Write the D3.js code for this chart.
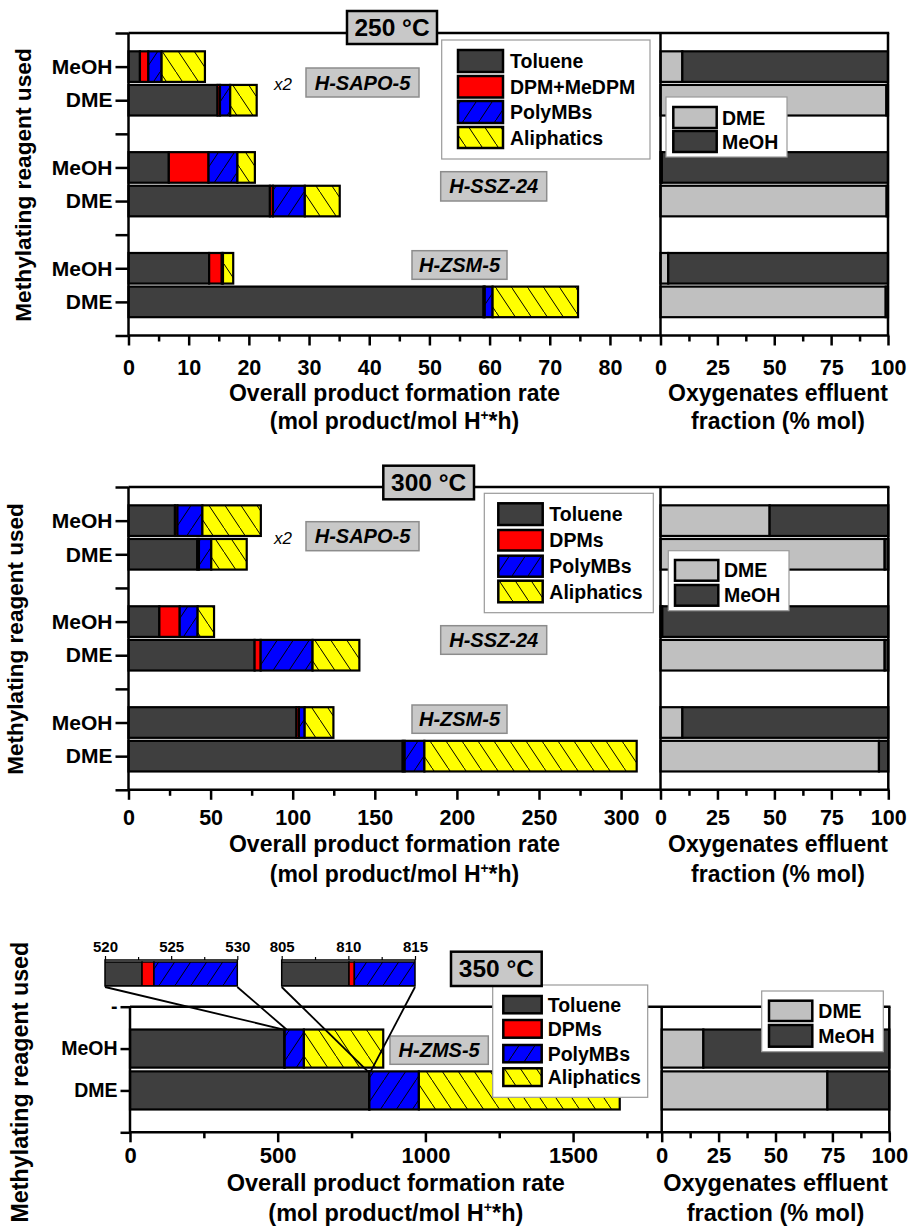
<!DOCTYPE html>
<html><head><meta charset="utf-8">
<script src="https://cdn.jsdelivr.net/npm/d3@7"></script>
<style>
body{margin:0;background:#fff}
svg{display:block}
text{font-family:"Liberation Sans",Arial,Helvetica,sans-serif;font-weight:bold;fill:#000}
</style>
</head><body><svg id="chart" width="912" height="1230"></svg>
<script>
// ===================== DATA =====================
const reagents = ["MeOH", "DME"];
const catalysts = ["H-SAPO-5", "H-SSZ-24", "H-ZSM-5"];
const catalysts350 = ["H-ZMS-5"];
const productKeys = ["Toluene", "DPMs", "PolyMBs", "Aliphatics"];
const productNames250 = ["Toluene", "DPM+MeDPM", "PolyMBs", "Aliphatics"];
const productNames = ["Toluene", "DPMs", "PolyMBs", "Aliphatics"];
const oxygenates = ["DME", "MeOH"];
const temperatures = ["250 °C", "300 °C", "350 °C"];

// rows: SAPO-5 MeOH, SAPO-5 DME, SSZ-24 MeOH, SSZ-24 DME, ZSM-5 MeOH, ZSM-5 DME
const toluene250 = [1.9, 14.8, 6.7, 23.5, 13.4, 59.0];
const dpm250     = [1.4, 0.4, 6.6, 0.5, 2.1, 0.2];
const polyMB250  = [2.2, 1.7, 4.8, 5.3, 0.2, 1.3];
const aliph250   = [7.2, 4.4, 2.9, 5.8, 1.7, 14.2];
const dmeOut250  = [9.6, 99.3, 0.6, 99.4, 3.4, 99.0];
const meohOut250 = [90.4, 0.7, 99.4, 0.6, 96.6, 1.0];

const toluene300 = [28.3, 41.9, 18.8, 76.8, 102.3, 167.0];
const dpm300     = [1.5, 1.0, 12.4, 3.7, 1.5, 1.2];
const polyMB300  = [15.2, 7.5, 10.9, 31.6, 3.5, 12.0];
const aliph300   = [35.6, 21.6, 10.0, 28.5, 17.5, 129.3];
const dmeOut300  = [47.9, 98.4, 0.8, 98.4, 9.6, 95.9];
const meohOut300 = [52.1, 1.6, 99.2, 1.6, 90.4, 4.1];

// rows: H-ZMS-5 MeOH, H-ZMS-5 DME
const toluene350 = [522.8, 810.05];
const dpm350     = [0.9, 0.4];
const polyMB350  = [65.0, 167.5];
const aliph350   = [268.6, 680.0];
const dmeOut350  = [18.3, 72.8];
const meohOut350 = [81.7, 27.2];

const rateTicks250 = [0, 10, 20, 30, 40, 50, 60, 70, 80];
const rateMinor250 = [5, 15, 25, 35, 45, 55, 65, 75, 85];
const rateTicks300 = [0, 50, 100, 150, 200, 250, 300];
const rateMinor300 = [25, 75, 125, 175, 225, 275];
const rateTicks350 = [0, 500, 1000, 1500];
const rateMinor350 = [250, 750, 1250, 1750];
const fracTicks = [0, 25, 50, 75, 100];
const fracMinor = [12.5, 37.5, 62.5, 87.5];
const insetTicksA = [520, 525, 530];
const insetMinorA = [522.5, 527.5];
const insetTicksB = [805, 810, 815];
const insetMinorB = [807.5, 812.5];

// ===================== STYLE =====================
const svg = d3.select("#chart");
const defs = svg.append("defs");
const DARK = "#3f3f3f", LIGHT = "#c0c0c0";
const fmt = d3.format("d");

function hatch(id, color, dir) {
  const w = 16, h = 24;
  const p = defs.append("pattern").attr("id", id).attr("patternUnits", "userSpaceOnUse")
    .attr("width", w).attr("height", h);
  p.append("rect").attr("width", w).attr("height", h).attr("fill", color);
  const d = dir === "/" ? `M0,${h} L${w},0 M-2,2 L2,-2 M${w-2},${h+2} L${w+2},${h-2}`
                        : `M0,0 L${w},${h} M-2,${h-2} L2,${h+2} M${w-2},-2 L${w+2},2`;
  p.append("path").attr("d", d).attr("stroke", "#000").attr("stroke-width", 1).attr("fill", "none");
}
hatch("hPoly", "#0000ff", "/");
hatch("hAli", "#ffff00", "\\");
const fills = {Toluene: DARK, DPMs: "#ff0000", PolyMBs: "url(#hPoly)", Aliphatics: "url(#hAli)"};
const oxFills = {DME: LIGHT, MeOH: DARK};

function slotLabels(n, rowSlots, topLabel) {
  const a = d3.range(n + 1).map(() => "");
  rowSlots.forEach((s, i) => a[s] = reagents[i % 2]);
  if (topLabel) a[0] = topLabel;
  return a;
}

const panels = [
  { top: 33, bottom: 335.5, x0: 128.5, xs: 660.5, xr: 888, max: 88.4, n: 9, rows: [1, 2, 4, 5, 7, 8],
    tol: toluene250, dpm: dpm250, poly: polyMB250, ali: aliph250, dme: dmeOut250, meoh: meohOut250,
    major: rateTicks250, minor: rateMinor250, names: productNames250, title: temperatures[0],
    titleBox: [347, 11, 437, 44], catFs: 21, tickFs: 21.5, tickBase: 375,
    legend: {box: [441.7, 40, 650, 159], sx: [458, 503], rows: [[50, 72], [76, 97.5], [101, 123], [127, 148]], tx: 510, fs: 19.5},
    legend2: {box: [666, 97, 787, 157], sx: [673.3, 716.7], rows: [[107, 128], [131, 152]], tx: 722, fs: 19.5},
    cats: [{name: catalysts[0], box: [306, 68, 419, 97]}, {name: catalysts[1], box: [440.7, 171.7, 546.7, 201]},
           {name: catalysts[2], box: [412, 250.7, 507, 279.3]}],
    x2: [283, 90], titleY: [400.5, 428.5], titleFs: 23, rightTitleX: 778,
    yTitle: {x: 30.5, y: 185, fs: 22.7, anchor: "middle"} },
  { top: 487, bottom: 789.8, x0: 128.5, xs: 660.5, xr: 888.3, max: 324, n: 9, rows: [1, 2, 4, 5, 7, 8],
    tol: toluene300, dpm: dpm300, poly: polyMB300, ali: aliph300, dme: dmeOut300, meoh: meohOut300,
    major: rateTicks300, minor: rateMinor300, names: productNames, title: temperatures[1],
    titleBox: [383.3, 465.7, 474, 499.3], catFs: 21, tickFs: 21.5, tickBase: 825,
    legend: {box: [484.3, 493.3, 653.3, 612.7], sx: [498.3, 542.7], rows: [[503.3, 525], [530, 550.5], [555.7, 576.7], [580.7, 602.3]], tx: 549.3, fs: 19.5},
    legend2: {box: [668.3, 550.7, 789, 610.7], sx: [675, 718.3], rows: [[560, 580.7], [585, 605.7]], tx: 724, fs: 19.5},
    cats: [{name: catalysts[0], box: [306, 521.7, 419, 550.7]}, {name: catalysts[1], box: [440.7, 625.7, 546.7, 654.3]},
           {name: catalysts[2], box: [412, 705, 507, 733.3]}],
    x2: [283, 544], titleY: [851.5, 881.7], titleFs: 23, rightTitleX: 778,
    yTitle: {x: 23, y: 639, fs: 22.5, anchor: "middle"} },
  { top: 1006.7, bottom: 1132.3, x0: 130, xs: 661.7, xr: 889.3, max: 1800, n: 3, rows: [1, 2],
    tol: toluene350, dpm: dpm350, poly: polyMB350, ali: aliph350, dme: dmeOut350, meoh: meohOut350,
    major: rateTicks350, minor: rateMinor350, names: productNames, title: temperatures[2], topLabel: "-",
    titleBox: [451, 951.7, 541.7, 986], catFs: 19.5, tickFs: 22, tickBase: 1163,
    legend: {box: [492.7, 985, 647.7, 1097.3], sx: [503.3, 541.7], rows: [[996, 1013.3], [1020, 1037.7], [1045, 1062.3], [1068.3, 1086]], tx: 547.7, fs: 19.5},
    legend2: {box: [761.7, 991, 883.3, 1051.7], sx: [769, 812.3], rows: [[1000.7, 1021], [1025, 1046.7]], tx: 818.3, fs: 19.5},
    cats: [{name: catalysts350[0], box: [390, 1036, 488.3, 1064.3]}],
    titleY: [1191, 1220.5], titleFs: 23.5, rightTitleX: 775.5,
    yTitle: {x: 28, y: 941.7, fs: 23.3, anchor: "end"},
    insets: [
      {domain: [520, 530], ticks: insetTicksA, minor: insetMinorA, x: [105, 237.3], row: 0},
      {domain: [805, 815], ticks: insetTicksB, minor: insetMinorB, x: [281.7, 415], row: 1}
    ] }
];

function styleAxis(sel, fs, sw) {
  sel.select(".domain").remove();
  sel.selectAll(".tick line").attr("stroke", "#000").attr("stroke-width", sw);
  sel.selectAll(".tick text").style("font-size", fs + "px").attr("fill", "#000");
}

function drawPanel(p, pi) {
  const g = svg.append("g");
  const y = d3.scaleLinear().domain([0, p.n]).range([p.top, p.bottom]);
  const xl = d3.scaleLinear().domain([0, p.max]).range([p.x0, p.xs]);
  const xr = d3.scaleLinear().domain([0, 100]).range([p.xs, p.xr]);
  const bh = (y(1) - y(0)) * 0.91;

  const table = p.rows.map((slot, i) => ({slot, Toluene: p.tol[i], DPMs: p.dpm[i], PolyMBs: p.poly[i], Aliphatics: p.ali[i],
                                          DME: p.dme[i], MeOH: p.meoh[i]}));
  const stacked = d3.stack().keys(productKeys)(table);
  const oxStacked = d3.stack().keys(oxygenates)(table);

  // left bars
  g.append("g").selectAll("g").data(stacked).join("g")
    .attr("fill", d => fills[d.key])
    .selectAll("rect").data(d => d).join("rect")
    .attr("x", d => xl(d[0])).attr("width", d => xl(d[1]) - xl(d[0]))
    .attr("y", d => y(d.data.slot) - bh / 2).attr("height", bh)
    .attr("stroke", "#000").attr("stroke-width", 2.2);

  // right bars
  g.append("g").selectAll("g").data(oxStacked).join("g")
    .attr("fill", d => oxFills[d.key])
    .selectAll("rect").data(d => d).join("rect")
    .attr("x", d => xr(d[0])).attr("width", d => xr(d[1]) - xr(d[0]))
    .attr("y", d => y(d.data.slot) - bh / 2).attr("height", bh)
    .attr("stroke", "#000").attr("stroke-width", 2.2);

  // frame
  const fr = g.append("g").attr("stroke", "#000").attr("stroke-width", 2.5).attr("fill", "none");
  fr.append("line").attr("x1", p.x0).attr("x2", p.xr + 1.2).attr("y1", p.top).attr("y2", p.top);
  fr.append("line").attr("x1", p.x0).attr("x2", p.xr + 1.2).attr("y1", p.bottom).attr("y2", p.bottom);
  [p.x0, p.xs, p.xr].forEach(x => fr.append("line").attr("x1", x).attr("x2", x).attr("y1", p.top).attr("y2", p.bottom));

  // y axis
  const labs = slotLabels(p.n, p.rows, p.topLabel);
  g.append("g").attr("transform", `translate(${p.x0},0)`)
    .call(d3.axisLeft(y).tickValues(d3.range(p.n + 1)).tickFormat(i => labs[i]).tickSize(p.n === 3 ? 9.5 : 13).tickPadding(3).tickSizeOuter(0))
    .call(s => styleAxis(s, p.catFs, 2.5));

  // x axes
  const pad = (p.tickBase - p.bottom) - 0.71 * p.tickFs - 10;
  [[xl, p.major], [xr, fracTicks]].forEach(([sc, tv]) => {
    g.append("g").attr("transform", `translate(0,${p.bottom})`)
      .call(d3.axisBottom(sc).tickValues(tv).tickFormat(fmt).tickSize(10).tickPadding(pad).tickSizeOuter(0))
      .call(s => styleAxis(s, p.tickFs, 2.5));
  });
  [[xl, p.minor], [xr, fracMinor]].forEach(([sc, tv]) => {
    g.append("g").attr("transform", `translate(0,${p.bottom})`)
      .call(d3.axisBottom(sc).tickValues(tv.filter(v => sc(v) <= sc.range()[1] - 2)).tickSize(6).tickFormat("").tickSizeOuter(0))
      .call(s => styleAxis(s, p.tickFs, 2.5));
  });

  // axis titles
  const cxL = (p.x0 + p.xs) / 2;
  g.append("text").attr("x", cxL).attr("y", p.titleY[0]).attr("text-anchor", "middle").style("font-size", p.titleFs + "px")
    .text("Overall product formation rate");
  const st = g.append("text").attr("x", cxL).attr("y", p.titleY[1]).attr("text-anchor", "middle").style("font-size", p.titleFs + "px");
  st.append("tspan").text("(mol product/mol H");
  st.append("tspan").text("+").attr("dy", -9).style("font-size", (p.titleFs * 0.6) + "px");
  st.append("tspan").text("*h)").attr("dy", 9);
  g.append("text").attr("x", p.rightTitleX).attr("y", p.titleY[0]).attr("text-anchor", "middle").style("font-size", p.titleFs + "px")
    .text("Oxygenates effluent");
  g.append("text").attr("x", p.rightTitleX).attr("y", p.titleY[1]).attr("text-anchor", "middle").style("font-size", p.titleFs + "px")
    .text("fraction (% mol)");

  // y title
  g.append("text").attr("transform", `translate(${p.yTitle.x},${p.yTitle.y}) rotate(-90)`)
    .attr("text-anchor", p.yTitle.anchor).style("font-size", p.yTitle.fs + "px").text("Methylating reagent used");

  // catalyst labels
  p.cats.forEach(c => {
    const [x1, y1, x2, y2] = c.box;
    g.append("rect").attr("x", x1).attr("y", y1).attr("width", x2 - x1).attr("height", y2 - y1)
      .attr("fill", "#c8c8c8").attr("stroke", "#8c8c8c").attr("stroke-width", 1.5);
    g.append("text").attr("x", (x1 + x2) / 2).attr("y", (y1 + y2) / 2 + 7).attr("text-anchor", "middle")
      .style("font-size", "20px").style("font-style", "italic").attr("fill", "#1a1a1a").text(c.name);
  });
  if (p.x2) {
    g.append("text").attr("x", p.x2[0]).attr("y", p.x2[1]).attr("text-anchor", "middle")
      .style("font-size", "17px").style("font-style", "italic").style("font-weight", "normal").text("x2");
  }

  // insets
  if (p.insets) {
    p.insets.forEach((ins, k) => {
      const xi = d3.scaleLinear().domain(ins.domain).range(ins.x);
      const iy0 = 960, iy1 = 986;
      const cid = "clipInset" + k;
      defs.append("clipPath").attr("id", cid).append("rect")
        .attr("x", ins.x[0]).attr("y", iy0).attr("width", ins.x[1] - ins.x[0]).attr("height", iy1 - iy0);
      const rowData = stacked.map(s => ({key: s.key, v: s[ins.row]}));
      g.append("g").attr("clip-path", `url(#${cid})`).selectAll("rect").data(rowData).join("rect")
        .attr("x", d => xi(Math.max(d.v[0], ins.domain[0] - 1)))
        .attr("width", d => Math.max(0, xi(Math.min(d.v[1], ins.domain[1] + 1)) - xi(Math.max(d.v[0], ins.domain[0] - 1))))
        .attr("y", iy0 + 2).attr("height", iy1 - iy0 - 2)
        .attr("fill", d => fills[d.key]).attr("stroke", "#000").attr("stroke-width", 1.5);
      g.append("rect").attr("x", ins.x[0]).attr("y", iy0).attr("width", ins.x[1] - ins.x[0]).attr("height", iy1 - iy0)
        .attr("fill", "none").attr("stroke", "#000").attr("stroke-width", 1.5);
      g.append("g").attr("transform", `translate(0,${iy0})`)
        .call(d3.axisTop(xi).tickValues(ins.ticks).tickFormat(fmt).tickSize(4).tickPadding(4).tickSizeOuter(0))
        .call(s => styleAxis(s, 15, 1.2));
      g.append("g").attr("transform", `translate(0,${iy0})`)
        .call(d3.axisTop(xi).tickValues(ins.minor).tickSize(3).tickFormat("").tickSizeOuter(0))
        .call(s => styleAxis(s, 15, 1.2));
      const slot = p.rows[ins.row];
      const yb = y(slot) - bh / 2;
      g.append("line").attr("x1", ins.x[0]).attr("y1", iy1 + 1).attr("x2", xl(ins.domain[0])).attr("y2", yb)
        .attr("stroke", "#000").attr("stroke-width", 1.8);
      g.append("line").attr("x1", ins.x[1]).attr("y1", iy1 + 1).attr("x2", xl(ins.domain[1])).attr("y2", yb)
        .attr("stroke", "#000").attr("stroke-width", 1.8);
    });
  }

  // legends
  function legend(L, keys, names, fillMap) {
    const [x1, y1, x2, y2] = L.box;
    g.append("rect").attr("x", x1).attr("y", y1).attr("width", x2 - x1).attr("height", y2 - y1)
      .attr("fill", "#fff").attr("stroke", "#9a9a9a").attr("stroke-width", 1.2);
    const it = g.append("g").selectAll("g").data(keys).join("g");
    it.append("rect").attr("x", L.sx[0]).attr("width", L.sx[1] - L.sx[0])
      .attr("y", (d, i) => L.rows[i][0]).attr("height", (d, i) => L.rows[i][1] - L.rows[i][0])
      .attr("fill", d => fillMap[d]).attr("stroke", "#000").attr("stroke-width", 2.5);
    it.append("text").attr("x", L.tx).attr("y", (d, i) => (L.rows[i][0] + L.rows[i][1]) / 2 + 7)
      .style("font-size", L.fs + "px").text((d, i) => names[i]);
  }
  legend(p.legend, productKeys, p.names, fills);
  legend(p.legend2, oxygenates, oxygenates, oxFills);

  // temperature box
  const [tx1, ty1, tx2, ty2] = p.titleBox;
  g.append("rect").attr("x", tx1).attr("y", ty1).attr("width", tx2 - tx1).attr("height", ty2 - ty1)
    .attr("fill", "#c8c8c8").attr("stroke", "#000").attr("stroke-width", 2.5);
  g.append("text").attr("x", (tx1 + tx2) / 2).attr("y", (ty1 + ty2) / 2 + 8.5).attr("text-anchor", "middle")
    .style("font-size", "24.5px").attr("fill", "#1a1a1a").text(p.title);
}

panels.forEach(drawPanel);
</script>
</body></html>
